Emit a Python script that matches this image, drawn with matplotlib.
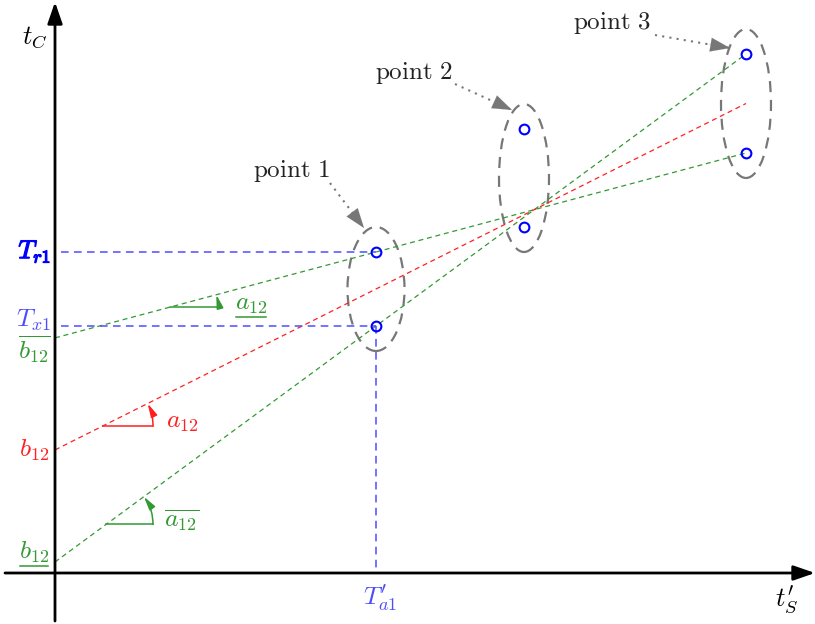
import numpy as np
import matplotlib as mpl
import matplotlib.pyplot as plt
import matplotlib.patheffects as pe
from matplotlib.patches import Ellipse

mpl.use("Agg")

plt.rcParams.update({"mathtext.fontset": "cm"})
plt.rcParams.update({"font.family": "serif"})
plt.rcParams.update({"font.size": 18.5})

# measured points: t'_S position and the two t_C readings at each one
t_s = np.array([321.0, 469.0, 691.0])
t_c_hi = np.array([321.0, 444.0, 519.0])
t_c_lo = np.array([247.0, 346.0, 420.0])
point_names = ["point 1", "point 2", "point 3"]

BLUE = "#0000ff"
LBLUE = "#4d4dff"
GREEN = "#339933"
RED = "#ff2020"
GREY = "#777777"

# bounding lines through the extreme readings of point 1 and point 3
a_lo = (t_c_lo[2] - t_c_hi[0]) / (t_s[2] - t_s[0])
b_hi = t_c_hi[0] - a_lo * t_s[0]
a_hi = (t_c_hi[2] - t_c_lo[0]) / (t_s[2] - t_s[0])
b_lo = t_c_lo[0] - a_hi * t_s[0]
a_mid = 0.5 * (a_lo + a_hi)
b_mid = 0.5 * (b_lo + b_hi)

fig = plt.figure(figsize=(8.15, 6.24), dpi=100)
ax = fig.add_axes([0, 0, 1, 1])
ax.set_xlim(-55, 760)
ax.set_ylim(-51, 573)
ax.set_aspect("equal")
ax.axis("off")

underlined = []

# axes with arrow heads
axis_style = dict(arrowstyle="-|>,head_length=1.3,head_width=0.45", color="k",
                  lw=2, mutation_scale=10, shrinkA=0, shrinkB=0)
ax.annotate("", xy=(760, 0), xytext=(-50, 0), arrowprops=axis_style,
            annotation_clip=False)
ax.annotate("", xy=(0, 571), xytext=(0, -48), arrowprops=axis_style,
            annotation_clip=False)
ax.text(-20, 536, r"$t_C$", ha="center", va="center", fontsize=19)
ax.text(732, -27, r"$t^{\prime}_S$", ha="center", va="center", fontsize=19)

# fitted lines
xx = np.array([0.0, t_s[2]])
ax.plot(xx, b_hi + a_lo * xx, ls=(0, (4, 3)), color=GREEN, lw=0.9)
ax.plot(xx, b_lo + a_hi * xx, ls=(0, (4, 3)), color=GREEN, lw=0.9)
ax.plot(xx, b_mid + a_mid * xx, ls=(0, (4, 3)), color=RED, lw=0.9)

# projections of point 1
ax.plot([6, t_s[0]], [t_c_hi[0], t_c_hi[0]], ls=(0, (5, 3.5)), color=LBLUE, lw=1.1)
ax.plot([6, t_s[0]], [t_c_lo[0], t_c_lo[0]], ls=(0, (5, 3.5)), color=LBLUE, lw=1.1)
ax.plot([t_s[0], t_s[0]], [t_c_lo[0], 4], ls=(0, (5, 3.5)), color=LBLUE, lw=1.1)

# slope markers: horizontal run plus arc back to the line
for x0, r, a, b, col, lab, dx, ul in [
    (115, 48, a_lo, b_hi, GREEN, r"$a_{12}$", 33, True),
    (48, 50, a_mid, b_mid, RED, r"$a_{12}$", 29, False),
    (51, 47, a_hi, b_lo, GREEN, r"$\overline{a_{12}}$", 29, False),
]:
    y0 = b + a * x0
    th = np.arctan(a)
    ax.plot([x0, x0 + r], [y0, y0], color=col, lw=1.1)
    end = (x0 + r * np.cos(th), y0 + r * np.sin(th))
    ax.annotate("", xy=end, xytext=(x0 + r, y0),
                arrowprops=dict(arrowstyle="-|>,head_length=0.8,head_width=0.2",
                                color=col, lw=1.1, mutation_scale=10,
                                shrinkA=0, shrinkB=0,
                                connectionstyle="arc3,rad=%.3f" % np.tan(th / 4)))
    t = ax.text(x0 + r + dx, y0 + 4, lab, color=col, ha="center", va="center")
    if ul:
        underlined.append(t)

# intercept and level labels on the t_C axis
ax.text(-4, t_c_hi[0], r"$T_{r1}$", color=BLUE, ha="right", va="center",
        path_effects=[pe.withStroke(linewidth=0.9, foreground=BLUE)])
ax.text(-4, t_c_lo[0] + 6, r"$T_{x1}$", color=LBLUE, ha="right", va="center")
ax.text(-4, b_hi - 12, r"$\overline{b_{12}}$", color=GREEN, ha="right", va="center")
ax.text(-6, b_mid, r"$b_{12}$", color=RED, ha="right", va="center")
underlined.append(ax.text(-6, b_lo + 10, r"$b_{12}$", color=GREEN, ha="right",
                          va="center"))
ax.text(t_s[0] + 4, -25, r"$T^{\prime}_{a1}$", color=LBLUE, ha="center", va="center")

# groups around each point with a labelled pointer
ell_w = [57, 50, 50]
label_xy = [(236, 402), (359, 500), (557, 550)]
tip_xy = [(309, 345), (457, 463), (675, 525)]
tail_xy = [(275, 390), (400, 489), (600, 538)]
for i in range(3):
    yc = 0.5 * (t_c_hi[i] + t_c_lo[i])
    h = t_c_hi[i] - t_c_lo[i] + 50
    ax.add_patch(Ellipse((t_s[i], yc), ell_w[i], h, fill=False, ec=GREY,
                         lw=1.6, ls=(0, (5, 3.5))))
    ax.text(label_xy[i][0], label_xy[i][1],
            r"$\mathrm{%s}$" % point_names[i].replace(" ", r"\ "),
            ha="center", va="center", color="#222222", fontsize=18)
    ax.plot([tail_xy[i][0], tip_xy[i][0]], [tail_xy[i][1], tip_xy[i][1]],
            ls=(0, (1, 2.5)), color=GREY, lw=1.5)
    ax.annotate("", xy=tip_xy[i],
                xytext=(tip_xy[i][0] - 0.3 * (tip_xy[i][0] - tail_xy[i][0]),
                        tip_xy[i][1] - 0.3 * (tip_xy[i][1] - tail_xy[i][1])),
                arrowprops=dict(arrowstyle="-|>,head_length=1.4,head_width=0.5",
                                color=GREY, lw=0.1, mutation_scale=10,
                                shrinkA=0, shrinkB=0))

ax.plot(t_s, t_c_hi, "o", mfc="none", mec=BLUE, mew=1.5, ms=7)
ax.plot(t_s, t_c_lo, "o", mfc="none", mec=BLUE, mew=1.5, ms=7)

# underline bars below the min-labels
fig.canvas.draw()
inv = ax.transData.inverted()
for t in underlined:
    bb = t.get_window_extent()
    (x1, y1), (x2, _) = inv.transform([(bb.x0, bb.y0), (bb.x1, bb.y1)])
    ax.plot([x1 + 1, x2 - 1], [y1 - 1, y1 - 1], color=t.get_color(), lw=1.1)

plt.savefig("out.png", dpi=100)
